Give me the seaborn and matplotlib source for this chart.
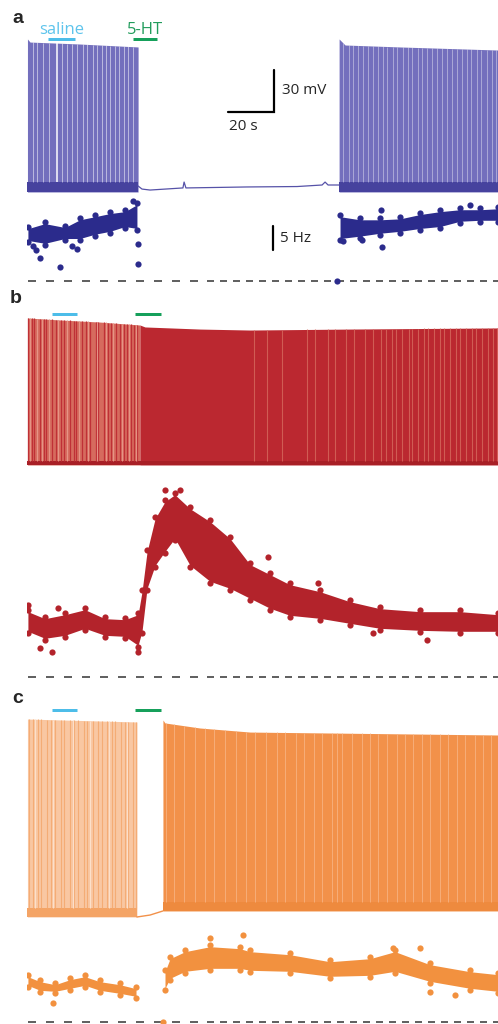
import numpy as np
import pandas as pd
import matplotlib
matplotlib.use("Agg")
import matplotlib.pyplot as plt
import matplotlib.transforms as mtransforms
import seaborn as sns

# ---------------- data (time in s, membrane potential in mV, rate in Hz) ----------------
panel_labels = ["a", "b", "c"]
drug_labels = ["saline", "5-HT"]
scale_labels = ["30 mV", "20 s", "5 Hz"]

# drug application bars (start, end) in s
a_saline = [9.1, 20.9]
a_5ht = [46.1, 56.5]
bc_saline = [10.9, 21.7]
bc_5ht = [47.0, 58.3]

# panel a: voltage trace
a_spk1_t = [0.2, 1.3, 23.0, 48.3]
a_spk1_top = [44.3, 42.1, 40.7, 38.6]
a_spk2_t = [135.7, 138.3, 162.2, 204.8]
a_spk2_top = [44.3, 40.0, 38.6, 36.4]
a_trough = -65.0
a_band_top = -58.0
a_quiet_t = [48.3, 50.0, 53.5, 67.8, 68.3, 69.1, 95.7, 117.4, 128.3, 129.6, 130.9, 133.9, 135.7]
a_quiet_mv = [-60.7, -62.9, -63.6, -62.1, -57.9, -62.1, -61.4, -61.1, -60.0, -57.9, -60.0, -60.0, -60.0]
a_gaps1 = [2.6, 4.3, 7.0, 9.6, 15.2, 17.4, 19.6, 21.7, 24.3, 26.1, 28.7, 30.4, 32.6,
           34.3, 36.1, 38.3, 40.0, 42.2, 43.9, 46.1]
a_gap_bold = [13.0]
a_gaps2 = [137.5, 139.8, 141.6, 144.0, 146.3, 148.1, 150.5, 152.4, 154.9, 156.7, 159.2,
           161.0, 163.3, 165.6, 167.4, 169.9, 171.8, 174.0, 176.3, 178.2, 180.6, 182.5,
           184.9, 186.8, 189.0, 191.4, 193.2, 195.7, 197.5, 199.8, 202.1, 204.0]

# panel a: instantaneous firing rate (band edges + isolated points)
a_rate1_t = [0.4, 7.8, 16.5, 23.0, 29.6, 36.1, 42.6, 47.8]
a_rate1_hi = [11.25, 12.3, 11.5, 13.1, 13.75, 14.4, 14.8, 16.25]
a_rate1_lo = [8.1, 7.5, 8.5, 8.5, 9.4, 10.0, 11.0, 10.6]
a_rate2_t = [136.1, 144.8, 153.5, 162.2, 170.9, 179.6, 188.3, 197.0, 204.8]
a_rate2_hi = [13.75, 13.1, 13.1, 13.3, 14.2, 14.8, 15.2, 15.2, 15.4]
a_rate2_lo = [8.5, 9.0, 9.6, 10.0, 10.6, 11.0, 12.1, 12.3, 12.3]
a_out_t = [2.6, 3.9, 5.7, 14.3, 19.6, 21.7, 46.1, 48.3, 48.3, 134.8, 137.4, 145.7, 153.9, 154.3, 192.6]
a_out_hz = [7.3, 6.5, 4.8, 2.9, 7.3, 6.7, 16.7, 7.7, 3.5, 0.0, 8.3, 8.5, 14.8, 7.1, 15.8]

# panel b: voltage trace
b_spk1_t = [0.2, 14.3, 31.7, 49.1]
b_spk1_top = [40.0, 38.6, 37.1, 35.0]
b_spk2_t = [49.1, 51.3, 75.2, 97.0, 140.4, 204.8]
b_spk2_top = [35.0, 33.6, 32.1, 31.4, 32.1, 32.9]
b_trough = -65.0
b_band_top = -62.0
b_dark1 = [0.5, 2.0, 3.1, 5.6, 7.4, 8.2, 10.9, 12.5, 14.8, 16.0, 18.7, 20.3, 21.1, 23.9,
           25.6, 27.2, 29.8, 31.0, 33.5, 35.1, 36.4, 38.8, 40.5, 42.0, 43.3, 45.1, 46.6, 48.0]
b_light1 = [1.2, 4.4, 6.5, 9.6, 13.6, 17.4, 22.5, 26.4, 30.5, 34.2, 37.6, 41.2, 44.2, 47.3]
b_light2 = [98.5, 104.2, 110.9, 121.7, 125.3, 130.8, 134.1, 138.6, 142.2, 146.9, 150.3,
            153.7, 156.2, 158.8, 160.5, 163.1, 165.9, 167.4, 170.2, 172.8, 174.5, 177.1,
            179.6, 181.3, 184.0, 186.7, 188.2, 190.9, 193.5, 195.1, 197.8, 200.4, 202.6, 204.3]

# panel b: instantaneous firing rate
b_rate_t = [0.4, 7.8, 16.5, 25.2, 33.9, 42.6, 48.3, 50.0, 52.2, 55.7, 60.0, 64.3, 70.9,
            79.6, 88.3, 97.0, 105.7, 114.3, 127.4, 140.4, 153.5, 170.9, 188.3, 204.8]
b_rate_hi = [13.96, 12.5, 13.33, 14.37, 12.5, 12.29, 13.33, 18.12, 26.45, 33.33, 36.87,
             38.33, 35.41, 32.70, 29.16, 23.75, 21.66, 19.58, 18.12, 16.04, 14.58, 13.96,
             13.96, 13.33]
b_rate_lo = [9.17, 7.71, 8.33, 9.79, 8.33, 8.12, 6.25, 9.17, 18.12, 22.91, 25.83, 28.54,
             22.91, 19.58, 18.12, 16.04, 13.96, 12.5, 11.87, 10.83, 9.79, 9.37, 9.17, 9.17]
b_out_t = [10.9, 5.7, 0.4, 13.5, 60.0, 66.5, 104.8, 126.5, 173.9, 150.4, 48.3]
b_out_hz = [5.2, 6.0, 15.0, 14.4, 39.0, 39.0, 25.0, 19.6, 7.7, 9.2, 5.2]

# panel c: voltage trace
c_spk1_t = [0.2, 47.8]
c_spk1_top = [76.4, 74.3]
c_trough1 = -65.0
c_band1_top = -58.6
c_gap_t = [47.8, 53.5, 59.1]
c_gap_mv = [-65.0, -63.6, -60.7]
c_spk2_t = [59.1, 60.0, 75.2, 97.0, 204.8]
c_spk2_top = [75.7, 73.6, 70.0, 67.1, 65.0]
c_trough2 = -60.7
c_band2_top = -54.0
c_stripe1 = [0.8, 2.4, 4.9, 6.3, 8.8, 10.5, 12.1, 14.7, 16.2, 18.9, 20.6, 22.0, 24.8, 26.3,
             28.5, 30.9, 32.4, 34.6, 36.8, 38.3, 40.7, 42.5, 44.1, 46.2, 47.4]
c_white1 = [3.6, 11.3, 19.8, 27.4, 35.5, 43.3]
c_stripe2 = [60.5, 63.8, 68.2, 72.9, 77.5, 81.4, 86.0, 90.7, 95.3, 99.1, 103.8, 108.5, 112.2,
             116.9, 120.4, 124.8, 128.3, 132.6, 134.9, 137.1, 141.5, 145.8, 149.2, 152.7,
             156.4, 160.9, 164.3, 168.0, 171.6, 175.2, 179.5, 183.1, 186.8, 190.4, 194.6,
             198.2, 201.9]

# panel c: instantaneous firing rate
c_rate1_t = [0.4, 5.7, 12.2, 18.7, 25.2, 31.7, 40.4, 47.4]
c_rate1_hi = [9.79, 8.75, 8.12, 9.17, 9.79, 8.75, 8.12, 7.29]
c_rate1_lo = [7.29, 6.25, 6.04, 6.67, 7.29, 6.25, 5.62, 5.0]
c_rate2_t = [60.0, 62.2, 68.7, 79.6, 92.6, 97.0, 114.3, 131.7, 149.1, 160.0, 175.2, 192.6, 204.8]
c_rate2_hi = [10.83, 13.54, 15.0, 16.04, 15.62, 15.0, 14.37, 12.91, 13.54, 15.0, 12.29, 10.83, 10.21]
c_rate2_lo = [6.67, 8.75, 10.21, 10.83, 10.83, 10.42, 10.21, 9.17, 9.37, 10.21, 8.12, 6.67, 6.04]
c_out_t = [11.3, 79.6, 93.9, 159.1, 170.9, 175.2, 186.1, 59.1]
c_out_hz = [4.0, 17.5, 18.1, 15.4, 15.4, 6.25, 5.6, 0.0]

# ---------------- styling / layout ----------------
sns.set_theme(style="white")
plt.rcParams['font.family'] = ['Open Sans', 'DejaVu Sans']
plt.rcParams['lines.scale_dashes'] = False

W, H = 498, 1024
X0, X1 = 27, 498
PX_PER_S = 2.3
PX_PER_MV = 1.4
PX_PER_HZ = 4.8
T_END = (X1 - X0) / PX_PER_S
PT = 0.72  # points per pixel

CYAN, GREEN = '#4dbde9', '#16a05b'
A_FILL, A_BAND, A_DOT = '#736fbd', '#46429e', '#2b2b8c'
B_FILL_L, B_DARK, B_LIGHT = '#d66b5e', '#bf3036', '#e8998b'
B_FILL_R, B_RSTRIPE, B_BAND, B_DOT = '#bb2830', '#d66a5e', '#a81f26', '#b3232b'
C_FILL_L, C_STRIPE_L, C_WHITE_L, C_BAND_L = '#f9c7a2', '#f4a970', '#fde3cf', '#f4a466'
C_FILL_R, C_STRIPE_R, C_BAND_R, C_DOT = '#f2914a', '#f8b585', '#ee8a3e', '#f2913f'

fig = plt.figure(figsize=(W / 100, H / 100), dpi=100)
fig.patch.set_facecolor('white')


def make_ax(top, bot, ref_val, ref_px, ppu):
    ax = fig.add_axes([X0 / W, 1 - bot / H, (X1 - X0) / W, (bot - top) / H])
    ax.set_axis_off()
    ax.patch.set_alpha(0)
    lim = (ref_val - (bot - ref_px) / ppu, ref_val + (ref_px - top) / ppu)
    ax.set_xlim(0, T_END)
    ax.set_ylim(*lim)
    return ax, lim


def val(ref_val, ref_px, ppu, ypx):
    return ref_val + (ref_px - ypx) / ppu


def spikes(ax, t, top, trough, band_top, fill, band, stripes):
    ax.fill_between(t, trough, top, color=fill, lw=0)
    ax.fill_between([t[0], t[-1]], trough, band_top, color=band, lw=0)
    for times, color, lw, alpha in stripes:
        tops = np.interp(times, t, top)
        ax.vlines(times, band_top, tops, colors=color, lw=lw, alpha=alpha)


def rate(ax, segs, out_t, out_hz, color):
    xs, ys = [], []
    for t, lo, hi in segs:
        lo_in = np.asarray(lo) + 0.35
        hi_in = np.asarray(hi) - 0.35
        ax.fill_between(t, lo_in, hi_in, color=color, lw=0)
        xs += list(t) + list(t)
        ys += list(lo) + list(hi)
    xs += list(out_t)
    ys += list(out_hz)
    df = pd.DataFrame({'t': xs, 'hz': ys})
    sns.scatterplot(data=df, x='t', y='hz', ax=ax, color=color, s=20, linewidth=0,
                    legend=False, zorder=3)


def baseline(ax):
    t_split = (200 - X0) / PX_PER_S
    ax.plot([0.4, t_split], [0, 0], color='#333333', lw=1.1, dashes=(8 * PT, 10 * PT), zorder=2)
    ax.plot([t_split + 3, T_END], [0, 0], color='#333333', lw=1.1, dashes=(7 * PT, 6 * PT), zorder=2)


def drug_bars(ax, sal, ht, ypx):
    tr = mtransforms.blended_transform_factory(ax.transData, fig.transFigure)
    for (t0, t1), col in [(sal, CYAN), (ht, GREEN)]:
        ax.plot([t0, t1], [1 - ypx / H] * 2, color=col, lw=3 * PT, solid_capstyle='butt',
                transform=tr, clip_on=False)
    return tr


# ---------------- panel a ----------------
axa, lima = make_ax(28, 202, a_trough, 192, PX_PER_MV)
spikes(axa, a_spk1_t, a_spk1_top, a_trough, a_band_top, A_FILL, A_BAND,
       [(a_gaps1, 'white', 0.6, 0.6), (a_gap_bold, 'white', 1.2, 0.9)])
spikes(axa, a_spk2_t, a_spk2_top, a_trough, a_band_top, A_FILL, A_BAND,
       [(a_gaps2, 'white', 0.5, 0.55)])
sns.lineplot(x=a_quiet_t, y=a_quiet_mv, ax=axa, color='#5652a8', lw=0.9, sort=False)
tr = drug_bars(axa, a_saline, a_5ht, 39)
axa.text(np.mean(a_saline), 1 - 34 / H, drug_labels[0], transform=tr, ha='center',
         va='baseline', color='#5ec4ec', fontsize=12)
axa.text(np.mean(a_5ht), 1 - 34 / H, drug_labels[1], transform=tr, ha='center',
         va='baseline', color='#229c5c', fontsize=12)
# scale bars 30 mV / 20 s
t_vbar = (274 - X0) / PX_PER_S
y_hbar = val(a_trough, 192, PX_PER_MV, 112)
axa.plot([t_vbar - 20, t_vbar, t_vbar], [y_hbar, y_hbar, y_hbar + 30], color='black',
         lw=1.6, solid_joinstyle='miter')
axa.text(t_vbar + 3.5, y_hbar + 15, scale_labels[0], ha='left', va='center', fontsize=11)
axa.text(t_vbar - 13.5, y_hbar - 10, scale_labels[1], ha='center', va='center', fontsize=11)
axa.set_xlim(0, T_END); axa.set_ylim(*lima)

axa2, lima2 = make_ax(195, 292, 0.0, 281, PX_PER_HZ)
rate(axa2, [(a_rate1_t, a_rate1_lo, a_rate1_hi), (a_rate2_t, a_rate2_lo, a_rate2_hi)],
     a_out_t, a_out_hz, A_DOT)
baseline(axa2)
t_hz = (273 - X0) / PX_PER_S
hz0 = val(0.0, 281, PX_PER_HZ, 250)
axa2.plot([t_hz, t_hz], [hz0, hz0 + 5], color='black', lw=1.6)
axa2.text(t_hz + 3, hz0 + 2.4, scale_labels[2], ha='left', va='center', fontsize=11)
axa2.set_xlim(0, T_END); axa2.set_ylim(*lima2)

# ---------------- panel b ----------------
axb, limb = make_ax(305, 472, b_trough, 465, PX_PER_MV)
spikes(axb, b_spk1_t, b_spk1_top, b_trough, b_band_top, B_FILL_L, B_BAND,
       [(b_dark1, B_DARK, 0.9, 1.0), (b_light1, B_LIGHT, 0.8, 0.9)])
spikes(axb, b_spk2_t, b_spk2_top, b_trough, b_band_top, B_FILL_R, B_BAND,
       [(b_light2, B_RSTRIPE, 0.8, 0.8)])
drug_bars(axb, bc_saline, bc_5ht, 314)
axb.set_xlim(0, T_END); axb.set_ylim(*limb)

axb2, limb2 = make_ax(480, 690, 0.0, 677, PX_PER_HZ)
rate(axb2, [(b_rate_t, b_rate_lo, b_rate_hi)], b_out_t, b_out_hz, B_DOT)
baseline(axb2)
axb2.set_xlim(0, T_END); axb2.set_ylim(*limb2)

# ---------------- panel c ----------------
axc, limc = make_ax(705, 927, c_trough1, 917, PX_PER_MV)
spikes(axc, c_spk1_t, c_spk1_top, c_trough1, c_band1_top, C_FILL_L, C_BAND_L,
       [(c_stripe1, C_STRIPE_L, 0.8, 0.9), (c_white1, C_WHITE_L, 0.8, 0.9)])
spikes(axc, c_spk2_t, c_spk2_top, c_trough2, c_band2_top, C_FILL_R, C_BAND_R,
       [(c_stripe2, C_STRIPE_R, 0.7, 0.8)])
sns.lineplot(x=c_gap_t, y=c_gap_mv, ax=axc, color=C_FILL_R, lw=1.0, sort=False)
drug_bars(axc, bc_saline, bc_5ht, 710)
axc.set_xlim(0, T_END); axc.set_ylim(*limc)

axc2, limc2 = make_ax(928, 1024, 0.0, 1022, PX_PER_HZ)
rate(axc2, [(c_rate1_t, c_rate1_lo, c_rate1_hi), (c_rate2_t, c_rate2_lo, c_rate2_hi)],
     c_out_t, c_out_hz, C_DOT)
baseline(axc2)
axc2.set_xlim(0, T_END); axc2.set_ylim(*limc2)

# ---------------- panel letters ----------------
for lab, (xp, yp) in zip(panel_labels, [(12, 23), (10, 303), (12, 703)]):
    fig.text(xp / W, 1 - yp / H, lab, fontsize=14, fontweight='bold',
             family=['Liberation Sans', 'DejaVu Sans'], ha='left', va='baseline')

fig.savefig('out.png', dpi=100, facecolor='white')
